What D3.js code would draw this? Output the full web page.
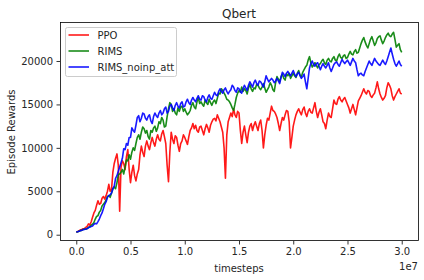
<!DOCTYPE html>
<html>
<head>
<meta charset="utf-8">
<script src="https://cdn.jsdelivr.net/npm/d3@7"></script>
<style>
	body { margin: 0; background: #fff; }
	text { font-family: "DejaVu Sans", sans-serif; fill: #262626; }
</style>
</head>
<body>
<div id="chart"></div>
<script>
// timesteps are logged every 125k steps, 0 .. 3e7
const stepSize = 125000;

const seriesNames = ['PPO', 'RIMS', 'RIMS_noinp_att'];
const seriesColors = ['red', 'green', 'blue'];

const ppo = [
	300, 350, 450, 560, 600, 680, 700, 850, 950, 1250, 1100, 1500, 2000, 2500, 2800, 3400, 3900, 3500, 3600, 4200,
	4400, 4100, 4500, 5000, 5800, 5000, 5200, 7200, 8200, 8800, 9300, 8000, 2700, 7800, 8500, 8200, 7500, 9000, 9800, 7500,
	6000, 7200, 8000, 6800, 6200, 7000, 7500, 9200, 10200, 9500, 9000, 10200, 10800, 10200, 9800, 10600, 11200, 10600, 10200, 11000,
	11500, 11000, 10800, 11600, 12000, 11300, 10500, 8000, 6100, 9500, 11800, 11000, 10500, 11400, 11200, 10300, 9600, 10500, 10800, 11500,
	11200, 10800, 10400, 11300, 12000, 12300, 12800, 12200, 12600, 12000, 11800, 12400, 12500, 12000, 11500, 12200, 12700, 12300, 11800, 12600,
	13000, 13300, 13400, 13100, 13800, 13400, 13000, 12400, 11800, 10000, 6500, 11500, 13000, 13500, 14000, 13600, 14500, 13800, 13500, 14200,
	14000, 12000, 10500, 11800, 12500, 11500, 10600, 11800, 12500, 12800, 12000, 12600, 13000, 12500, 12000, 12800, 13200, 12000, 10000, 11500,
	12600, 13400, 13200, 14000, 14800, 14300, 14200, 13900, 13500, 12800, 12000, 12800, 13500, 13200, 13800, 14300, 14200, 13000, 10000, 11200,
	12500, 13200, 13800, 14200, 14500, 14100, 13800, 14400, 14700, 14000, 13600, 14200, 14500, 14100, 14000, 14600, 15200, 14200, 13500, 14100,
	14500, 13800, 13000, 12800, 12200, 13200, 14000, 13600, 13500, 14500, 15500, 15100, 15000, 15600, 15900, 15500, 15300, 15600, 15800, 15400,
	15000, 14600, 14000, 14500, 15000, 14400, 13800, 14600, 15400, 15700, 16000, 16400, 16800, 16400, 16200, 16600, 16500, 16000, 15800, 16100,
	16300, 16900, 17600, 16800, 16200, 15800, 15500, 15700, 16000, 16900, 17500, 17200, 16800, 16000, 15500, 15900, 16200, 16500, 16800, 16300,
	16200
];

const rims = [
	300, 330, 400, 470, 500, 600, 650, 620, 700, 850, 900, 1100, 1200, 1400, 1800, 2100, 2200, 2600, 2800, 3300,
	3500, 3700, 4000, 4400, 4500, 4300, 4800, 5300, 5500, 5300, 6000, 6900, 7000, 7200, 7500, 7000, 7800, 8600, 8500, 9200,
	8700, 9500, 10000, 9700, 10500, 11200, 11500, 11000, 11800, 12400, 12200, 11700, 12000, 11300, 11000, 12000, 11800, 12300, 12500, 11900,
	12300, 13000, 12800, 13500, 13200, 12400, 12500, 13600, 14500, 15200, 15000, 14200, 14500, 14000, 13800, 14600, 14200, 14700, 14800, 14200,
	14500, 14100, 13800, 14000, 14300, 14900, 15200, 14700, 14500, 15300, 15800, 15100, 15300, 15000, 14800, 15500, 15200, 15000, 15600, 15200,
	14900, 15300, 15500, 15100, 15700, 16300, 16200, 16800, 16600, 16300, 16000, 15600, 15500, 15300, 15000, 14600, 14300, 15000, 15800, 16300,
	16600, 16400, 17000, 16500, 16800, 16600, 16200, 16900, 17300, 16800, 16500, 16900, 16800, 17300, 17200, 16900, 16700, 17000, 17400, 16900,
	16400, 16700, 17000, 17500, 17200, 16700, 16500, 17500, 18200, 17900, 17600, 18200, 18500, 18000, 17800, 18500, 18300, 18600, 18000, 18300,
	18600, 18300, 18100, 18600, 18900, 18400, 18200, 18700, 19000, 19300, 19500, 20100, 20500, 19800, 19300, 19500, 19800, 19500, 19200, 19600,
	19700, 20000, 20200, 19800, 19600, 20100, 20300, 20000, 19900, 20300, 20500, 20100, 20000, 20500, 20800, 20400, 20300, 20600, 20700, 20300,
	20400, 20800, 21100, 20800, 20700, 21100, 21300, 20900, 21000, 21500, 22000, 22400, 22700, 22200, 21800, 21500, 22000, 22500, 22800, 22300,
	21800, 22100, 22600, 22800, 22900, 22400, 22000, 22300, 22700, 23000, 23200, 22900, 22800, 23100, 23300, 22500, 21600, 21800, 22000, 21300,
	21000
];

const rimsNoinpAtt = [
	300, 350, 400, 450, 500, 580, 600, 650, 700, 800, 900, 950, 1000, 1200, 1300, 1250, 1500, 1800, 2200, 2500,
	3000, 3500, 3800, 4300, 4500, 4600, 4800, 5300, 5600, 6500, 6800, 7300, 7800, 8300, 8800, 9900, 9800, 10500, 10300, 11200,
	11200, 12300, 12000, 11800, 12600, 13500, 13700, 13000, 13400, 14000, 13900, 13400, 13200, 13600, 13800, 13100, 12800, 13600, 14000, 13700,
	13500, 14000, 14300, 13800, 14000, 14500, 14700, 14000, 14200, 14800, 15000, 14600, 14300, 14900, 15200, 14800, 14600, 15100, 15300, 14700,
	14800, 15300, 15600, 15200, 15000, 15500, 15800, 15500, 15300, 15700, 16000, 15600, 15500, 16000, 15900, 15500, 15300, 15800, 16100, 15700,
	15600, 16000, 16400, 16100, 16000, 16500, 16800, 16500, 16300, 16700, 16900, 16500, 16200, 16500, 16700, 17200, 17000, 16600, 16400, 16900,
	16800, 16500, 16300, 16800, 17200, 16900, 16600, 17200, 17600, 17300, 17000, 17500, 17800, 17400, 17200, 17700, 17600, 17300, 17000, 17600,
	18300, 17900, 17600, 17800, 18000, 17800, 17500, 17700, 18000, 17700, 17400, 18100, 18700, 18500, 18200, 18600, 18800, 18500, 18300, 18600,
	18900, 18500, 18200, 18500, 18700, 18300, 18000, 18200, 18500, 17600, 16800, 18000, 19200, 19700, 20000, 19600, 19400, 19700, 19800, 19400,
	19000, 19400, 19700, 19400, 19200, 19500, 19800, 19200, 18800, 19200, 19600, 19800, 19900, 19600, 19400, 19800, 20200, 19900, 19700, 19900,
	20100, 19800, 19500, 19900, 20300, 20000, 19800, 19000, 18300, 18500, 18600, 18400, 18300, 18800, 19200, 19600, 20000, 19700, 19500, 19900,
	20300, 20000, 19800, 19600, 19500, 19800, 20100, 19800, 19600, 20000, 20500, 21000, 21500, 20800, 20200, 19700, 19400, 19700, 20000, 19600,
	19400
];

const xTicks = [0, 0.5e7, 1e7, 1.5e7, 2e7, 2.5e7, 3e7];
const yTicks = [0, 5000, 10000, 15000, 20000];

function lineChart(container){
	const width = 424,
		height = 280,
		plot = {left: 60, right: 418, top: 23, bottom: 241};

	const allSeries = [ppo, rims, rimsNoinpAtt];

	const xScale = d3.scaleLinear()
		.domain([-0.15e7, 3.15e7])
		.range([plot.left, plot.right]);

	const yScale = d3.scaleLinear()
		.domain([-725, 24375])
		.range([plot.bottom, plot.top]);

	const svg = d3.select(container)
		.append('svg')
		.attr('width', width)
		.attr('height', height);

	const line = d3.line()
		.x((d, i) => xScale(i * stepSize))
		.y(d => yScale(d));

	svg.append('g')
		.classed('lines', true)
		.selectAll('path')
		.data(allSeries)
		.enter()
			.append('path')
			.attr('d', d => line(d))
			.style('fill', 'none')
			.style('stroke', (d, i) => seriesColors[i])
			.style('stroke-opacity', 0.9)
			.style('stroke-width', 1.6)
			.style('stroke-linejoin', 'round');

	// axes
	const xAxis = d3.axisBottom(xScale)
		.tickValues(xTicks)
		.tickSize(3.5)
		.tickPadding(3.5)
		.tickFormat(d => d3.format('.1f')(d / 1e7));

	const yAxis = d3.axisLeft(yScale)
		.tickValues(yTicks)
		.tickSize(3.5)
		.tickPadding(3.5)
		.tickFormat(d3.format('d'));

	const gx = svg.append('g')
		.attr('transform', `translate(0,${plot.bottom})`)
		.call(xAxis);
	const gy = svg.append('g')
		.attr('transform', `translate(${plot.left},0)`)
		.call(yAxis);

	[gx, gy].forEach(g => {
		g.select('.domain').remove();
		g.selectAll('line').style('stroke', '#000').style('stroke-width', 0.8);
		g.selectAll('text').style('font-size', '10px').style('fill', '#262626');
	});

	svg.append('rect')
		.attr('x', plot.left + 0.5)
		.attr('y', plot.top - 0.5)
		.attr('width', plot.right - plot.left)
		.attr('height', plot.bottom - plot.top)
		.style('fill', 'none')
		.style('stroke', '#000')
		.style('stroke-width', 0.8);

	// labels
	svg.append('text')
		.attr('x', (plot.left + plot.right) / 2)
		.attr('y', 18)
		.attr('text-anchor', 'middle')
		.style('font-size', '12px')
		.text('Qbert');

	svg.append('text')
		.attr('x', (plot.left + plot.right) / 2)
		.attr('y', 272)
		.attr('text-anchor', 'middle')
		.style('font-size', '10px')
		.text('timesteps');

	svg.append('text')
		.attr('x', plot.right)
		.attr('y', 270)
		.attr('text-anchor', 'end')
		.style('font-size', '10px')
		.text('1e7');

	svg.append('text')
		.attr('transform', `translate(15,${(plot.top + plot.bottom) / 2}) rotate(-90)`)
		.attr('text-anchor', 'middle')
		.style('font-size', '10px')
		.text('Episode Rewards');

	// legend
	const legend = svg.append('g')
		.attr('transform', 'translate(65.5,27.5)');

	legend.append('rect')
		.attr('width', 111)
		.attr('height', 49)
		.attr('rx', 2)
		.style('fill', '#fff')
		.style('fill-opacity', 0.8)
		.style('stroke', '#cccccc')
		.style('stroke-width', 1);

	const rows = legend.selectAll('g.row')
		.data(seriesNames)
		.enter()
			.append('g')
			.classed('row', true)
			.attr('transform', (d, i) => `translate(0,${7.5 + i * 16})`);

	rows.append('line')
		.attr('x1', 3)
		.attr('x2', 23.5)
		.attr('y1', 0)
		.attr('y2', 0)
		.style('stroke', (d, i) => seriesColors[i])
		.style('stroke-opacity', 0.9)
		.style('stroke-width', 1.6);

	rows.append('text')
		.attr('x', 32)
		.attr('y', 3.5)
		.style('font-size', '10px')
		.text(d => d);
}

lineChart('#chart');
</script>
</body>
</html>
